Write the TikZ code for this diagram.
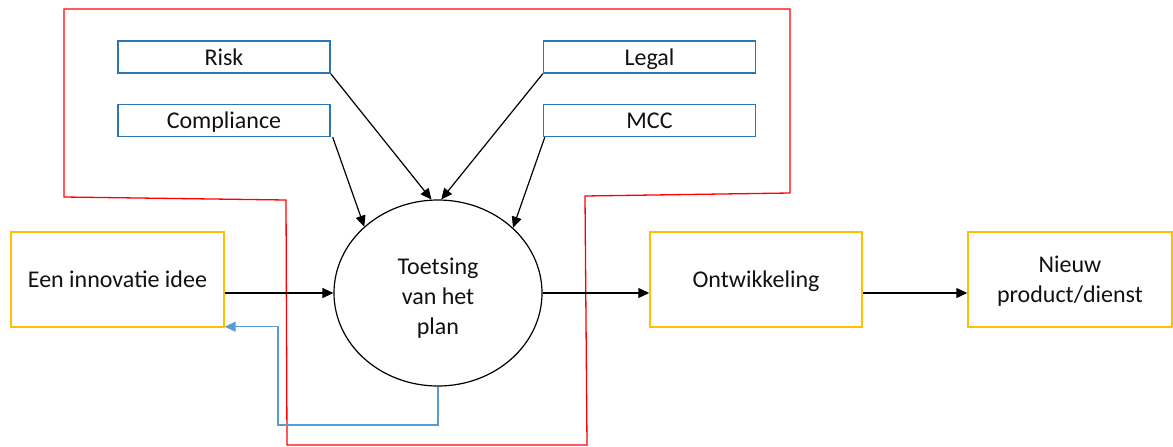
\documentclass[tikz,border=0pt]{standalone}
\usepackage{fontspec}
\setmainfont{Carlito}
\usetikzlibrary{arrows.meta,shapes.geometric}
\definecolor{boxblue}{HTML}{2E75B6}
\definecolor{fbblue}{HTML}{5B9BD5}
\definecolor{boxyellow}{HTML}{FFC000}
\definecolor{framered}{HTML}{FF0000}
\definecolor{txt}{HTML}{111111}
\tikzset{
  every node/.style={font=\fontsize{24}{30}\selectfont},
  onetext/.style={text height=20pt,text depth=4pt},
  bluebox/.style={draw=boxblue,line width=1.4pt,minimum width=212pt,minimum height=32pt,inner sep=0pt,text=txt,onetext},
  yelbox/.style={draw=boxyellow,line width=1.4pt,minimum height=95pt,inner sep=0pt,align=center,text=txt},
  conn/.style={draw=black,line width=1.2pt,-{Triangle[length=11pt,width=10pt]}},
  fbconn/.style={draw=fbblue,line width=1.4pt,-{Triangle[length=11pt,width=10pt]}}
}
\begin{document}
\begin{tikzpicture}[x=1pt,y=-1pt]
\useasboundingbox (0,0) rectangle (1173,447);
% red frame
\draw[framered,line width=1.3pt] (64,9) -- (790,9) -- (790,193) -- (585,196) -- (587,445) -- (287,445) -- (286,200) -- (64,197) -- cycle;
% blue boxes
\node[bluebox] (risk) at (224,57) {Risk};
\node[bluebox] (comp) at (224,120.5) {Compliance};
\node[bluebox] (legal) at (649.5,57) {Legal};
\node[bluebox] (mcc) at (649.5,120.5) {MCC};
% yellow boxes
\node[yelbox,onetext,minimum width=213pt] (idee) at (117.5,279.5) {Een innovatie idee};
\node[yelbox,onetext,minimum width=212pt] (ontw) at (756,279.5) {Ontwikkeling};
\node[yelbox,minimum width=204pt] (nieuw) at (1070,279.5) {\begin{tabular}{@{}c@{}}\rule{0pt}{25pt}Nieuw\\product/dienst\end{tabular}};
% ellipse
\node[draw,ellipse,line width=1.2pt,minimum width=208pt,minimum height=186pt,inner sep=0pt,text=txt] (toets) at (438,293) {\begin{tabular}{@{}c@{}}\rule{0pt}{31pt}Toetsing\\van het\\plan\end{tabular}};
% arrows
\draw[conn] (risk.south east) -- (toets.94);
\draw[conn] (legal.south west) -- (toets.88);
\draw[conn] ([xshift=2pt]comp.south east) -- (toets.138);
\draw[conn] ([xshift=2pt]mcc.south west) -- (toets.41);
\draw[conn] (idee.east |- toets.west) -- (toets.west);
\draw[conn] (toets.east) -- (ontw.west |- toets.east);
\draw[conn] (ontw.east |- toets.east) -- (nieuw.west |- toets.east);
\coordinate (fb) at (278,425);
\draw[fbconn] (toets.south) |- (fb) |- ([yshift=1pt]idee.south east);
\end{tikzpicture}
\end{document}
